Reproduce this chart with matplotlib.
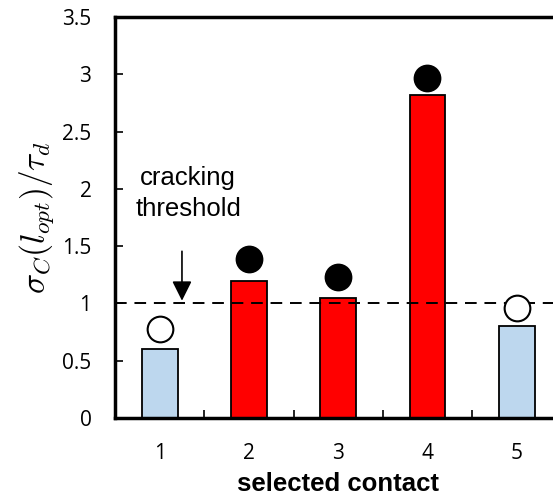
import numpy as np
import matplotlib.pyplot as plt
from matplotlib.ticker import FixedLocator

contacts = [1, 2, 3, 4, 5]
ratio = [0.6, 1.2, 1.05, 2.82, 0.8]
cracked = [False, True, True, True, False]
marker_y = [0.78, 1.39, 1.23, 2.97, 0.96]
threshold = 1.0

plt.rcParams['mathtext.fontset'] = 'cm'

fig = plt.figure(figsize=(5.53, 4.98), dpi=100)
ax = fig.add_axes([0.208, 0.1606, 0.807, 0.805])

bar_colors = ['#ff0000' if c else '#bdd7ee' for c in cracked]
ax.bar(contacts, ratio, width=0.4, color=bar_colors, edgecolor='black', linewidth=1.3, zorder=2)

for x, y, c in zip(contacts, marker_y, cracked):
    ax.plot(x, y, 'o', markersize=18.5, markerfacecolor='black' if c else 'white',
            markeredgecolor='black', markeredgewidth=1.5, zorder=4)

ax.axhline(threshold, color='black', linestyle=(0, (6, 4)), linewidth=1.4, zorder=3)

ax.annotate('', xy=(1.25, threshold), xytext=(1.25, 1.48),
            arrowprops=dict(arrowstyle='-|>', color='black', lw=1.2, mutation_scale=30))
ax.text(1.32, 1.96, 'cracking\nthreshold', ha='center', va='center', fontsize=18.5,
        family='Liberation Sans', linespacing=1.4)

ax.set_xlim(0.5, 5.5)
ax.set_ylim(0, 3.5)
ax.set_yticks(np.arange(0, 3.51, 0.5))
ax.set_yticklabels(['0', '0.5', '1', '1.5', '2', '2.5', '3', '3.5'])
ax.set_xticks(contacts)
ax.xaxis.set_minor_locator(FixedLocator([1.5, 2.5, 3.5, 4.5]))

ax.tick_params(axis='y', direction='in', length=6, width=1.2, labelsize=15, pad=17)
ax.tick_params(axis='x', which='major', length=0, labelsize=15, pad=18)
ax.tick_params(axis='x', which='minor', direction='in', length=6, width=1.2)
for lab in ax.get_xticklabels() + ax.get_yticklabels():
    lab.set_family('Open Sans')

for s in ax.spines.values():
    s.set_linewidth(2.5)

ax.set_xlabel('selected contact', fontsize=18.5, fontweight='bold', family='Liberation Sans', labelpad=6)
ax.set_ylabel(r'$\sigma_C(l_{opt})/\tau_d$', fontsize=24, labelpad=4)

fig.savefig('out.png', dpi=100)
